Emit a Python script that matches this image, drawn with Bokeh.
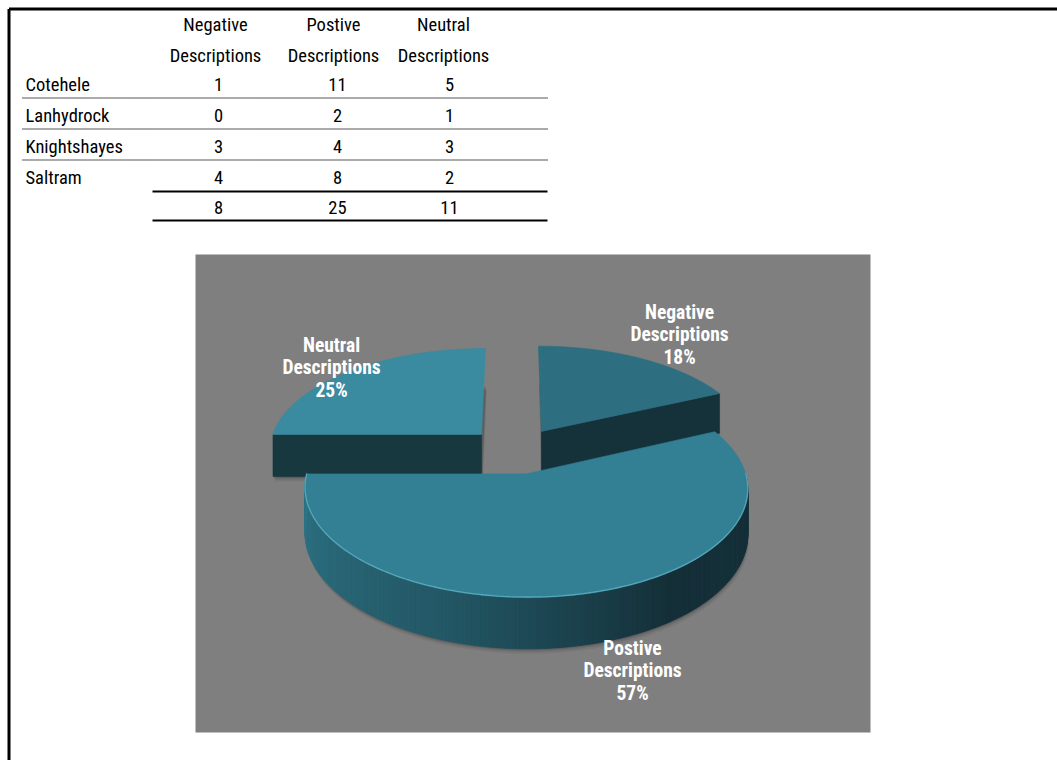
import math
import numpy as np
from bokeh.plotting import figure
from bokeh.models import Range1d
from bokeh.core.properties import value
from bokeh.embed import file_html
from bokeh.resources import INLINE

# ---------------- data ----------------
properties = ["Cotehele", "Lanhydrock", "Knightshayes", "Saltram"]
header_line1 = ["Negative", "Postive", "Neutral"]
header_line2 = ["Descriptions", "Descriptions", "Descriptions"]
negative = [1, 0, 3, 4]
positive = [11, 2, 4, 8]
neutral = [5, 1, 3, 2]
pie_names = ["Negative", "Postive", "Neutral"]
pie_sub = "Descriptions"

columns = [negative, positive, neutral]
totals = [sum(c) for c in columns]

# ---------------- styles / layout ----------------
W, HGT = 1057, 760
TFONT = "Roboto Condensed"
TSIZE = "18.5px"
LFONT = "Roboto Condensed"
LSIZE = "19.5px"

p = figure(width=W, height=HGT, x_range=Range1d(0, W), y_range=Range1d(HGT, 0),
           output_backend="svg", toolbar_location=None, min_border=0,
           x_axis_location=None, y_axis_location=None)
p.grid.visible = False
p.outline_line_color = None
p.background_fill_color = "white"
p.border_fill_color = "white"

# page frame
p.segment(x0=[8.5, 8.5], y0=[8.5, 8.5], x1=[W, 8.5], y1=[8.5, HGT],
          line_color="black", line_width=3)

# ---------------- table ----------------
head_x = [215, 333, 443]
val_x = [218, 337, 449]
row_y = [84 + 31 * i for i in range(len(properties))]
total_y = row_y[-1] + 30

p.text(x=head_x, y=[24] * 3, text=header_line1, text_font=value(TFONT),
       text_font_size=TSIZE, text_align="center", text_baseline="middle", text_color="black")
p.text(x=head_x, y=[55] * 3, text=header_line2, text_font=value(TFONT),
       text_font_size=TSIZE, text_align="center", text_baseline="middle", text_color="black")
p.text(x=[25] * len(properties), y=row_y, text=properties, text_font=value(TFONT),
       text_font_size=TSIZE, text_align="left", text_baseline="middle", text_color="black")
for j, col in enumerate(columns):
    p.text(x=[val_x[j]] * len(col), y=row_y, text=[str(v) for v in col], text_font=value(TFONT),
           text_font_size=TSIZE, text_align="center", text_baseline="middle", text_color="black")
p.text(x=val_x, y=[total_y] * 3, text=[str(t) for t in totals], text_font=value(TFONT),
       text_font_size=TSIZE, text_align="center", text_baseline="middle", text_color="black")

sep_y = [y + 13.5 for y in row_y[:-1]]
p.segment(x0=[22] * len(sep_y), y0=sep_y, x1=[547] * len(sep_y), y1=sep_y,
          line_color="#222222", line_width=1.5, line_dash="1 1")
p.segment(x0=[152, 152], y0=[row_y[-1] + 14, total_y + 13], x1=[547, 547],
          y1=[row_y[-1] + 14, total_y + 13], line_color="black", line_width=2)

# ---------------- 3D pie ----------------
p.quad(left=[195], right=[870], top=[254], bottom=[732], fill_color="#7F7F7F", line_color=None)

CX, CY = 515.0, 450.0
R, A, K, H = 213.0, 101.0, 0.13, 43.0
E = 0.23


def proj(X, Y, z=0.0):
    X = np.asarray(X, dtype=float)
    Y = np.asarray(Y, dtype=float)
    s = 1.0 / (1.0 + K * Y)
    return CX + R * X * s, CY - A * Y * s + H * z * s


tot = float(sum(totals))
fr = [t / tot for t in totals]
starts = np.concatenate([[0.0], np.cumsum(fr)[:-1]]) * 2 * math.pi
ends = starts + np.array(fr) * 2 * math.pi

top_cols = ["#2D6E80", "#338094", "#3A8AA0"]
side_cols = ["#15313A", "#17353F", "#18383F"]

# wall gradient as a function of angle (deg, clockwise from 12 o'clock)
g_ang = [90, 145, 200, 270]
g_rgb = [(21, 49, 58), (20, 47, 56), (35, 88, 102), (47, 118, 136)]


def wall_color(deg):
    c = [int(round(np.interp(deg, g_ang, [g[k] for g in g_rgb]))) for k in range(3)]
    return "#%02x%02x%02x" % tuple(c)


order = sorted(range(3), key=lambda i: -math.cos((starts[i] + ends[i]) / 2))

# soft shadows under slices
for i in range(3):
    tm = (starts[i] + ends[i]) / 2
    ox, oy = E * math.sin(tm), E * math.cos(tm)
    arc = np.linspace(starts[i], ends[i], 120)
    X = np.concatenate([[ox], ox + np.sin(arc)])
    Y = np.concatenate([[oy], oy + np.cos(arc)])
    for d, al in [(5, 0.06), (3, 0.09), (1.5, 0.12)]:
        sx, sy = proj(X, Y, 1.0)
        p.patch(x=list(sx + d * 0.3), y=list(sy + d), fill_color="black", fill_alpha=al, line_color=None)

for i in order:
    t0, t1 = starts[i], ends[i]
    tm = (t0 + t1) / 2
    ox, oy = E * math.sin(tm), E * math.cos(tm)

    # radial side faces facing the viewer
    for t, vis in [(t0, math.sin(t0) < -1e-6), (t1, math.sin(t1) > 1e-6)]:
        if vis:
            X = [ox, ox + math.sin(t), ox + math.sin(t), ox]
            Y = [oy, oy + math.cos(t), oy + math.cos(t), oy]
            Z = [0, 0, 1, 1]
            xs, ys = [], []
            for a, b, c in zip(X, Y, Z):
                u, v = proj(a, b, c)
                xs.append(float(u)); ys.append(float(v))
            p.patch(x=xs, y=ys, fill_color=side_cols[i], line_color=side_cols[i], line_width=0.6)

    # curved outer wall (front half only)
    lo = max(t0, math.pi / 2)
    hi = min(t1, 3 * math.pi / 2)
    if hi > lo:
        angs = np.linspace(lo, hi, 181)
        pxs, pys, cols = [], [], []
        for a0, a1 in zip(angs[:-1], angs[1:]):
            X = [ox + math.sin(a0), ox + math.sin(a1), ox + math.sin(a1), ox + math.sin(a0)]
            Y = [oy + math.cos(a0), oy + math.cos(a1), oy + math.cos(a1), oy + math.cos(a0)]
            Z = [0, 0, 1, 1]
            xs, ys = [], []
            for a, b, c in zip(X, Y, Z):
                u, v = proj(a, b, c)
                xs.append(float(u)); ys.append(float(v))
            pxs.append(xs); pys.append(ys)
            cols.append(wall_color(math.degrees((a0 + a1) / 2)))
        p.patches(xs=pxs, ys=pys, fill_color=cols, line_color=cols, line_width=0.8)

    # top face
    arc = np.linspace(t0, t1, 200)
    X = np.concatenate([[ox], ox + np.sin(arc)])
    Y = np.concatenate([[oy], oy + np.cos(arc)])
    sx, sy = proj(X, Y, 0.0)
    p.patch(x=list(sx), y=list(sy), fill_color=top_cols[i], line_color=top_cols[i], line_width=0.6)

    # light rim along the front edge of the top face
    if hi > lo:
        ra = np.linspace(lo, hi, 150)
        rx, ry = proj(ox + np.sin(ra), oy + np.cos(ra), 0.0)
        p.line(x=list(rx), y=list(ry - 0.6), line_color="#62B4C8", line_width=1.3, line_alpha=0.75)

# ---------------- pie labels ----------------
label_pos = [(679, 334), (632, 670), (331, 367)]
pct = [f"{round(100 * t / tot)}%" for t in totals]
for i in range(3):
    lx, ly = label_pos[i]
    p.text(x=[lx] * 3, y=[ly - 22.5, ly, ly + 22.5], text=[pie_names[i], pie_sub, pct[i]],
           text_font=value(LFONT), text_font_size=LSIZE, text_font_style="bold",
           text_align="center", text_baseline="middle", text_color="white")

open("out.html", "w").write(file_html(p, INLINE))
